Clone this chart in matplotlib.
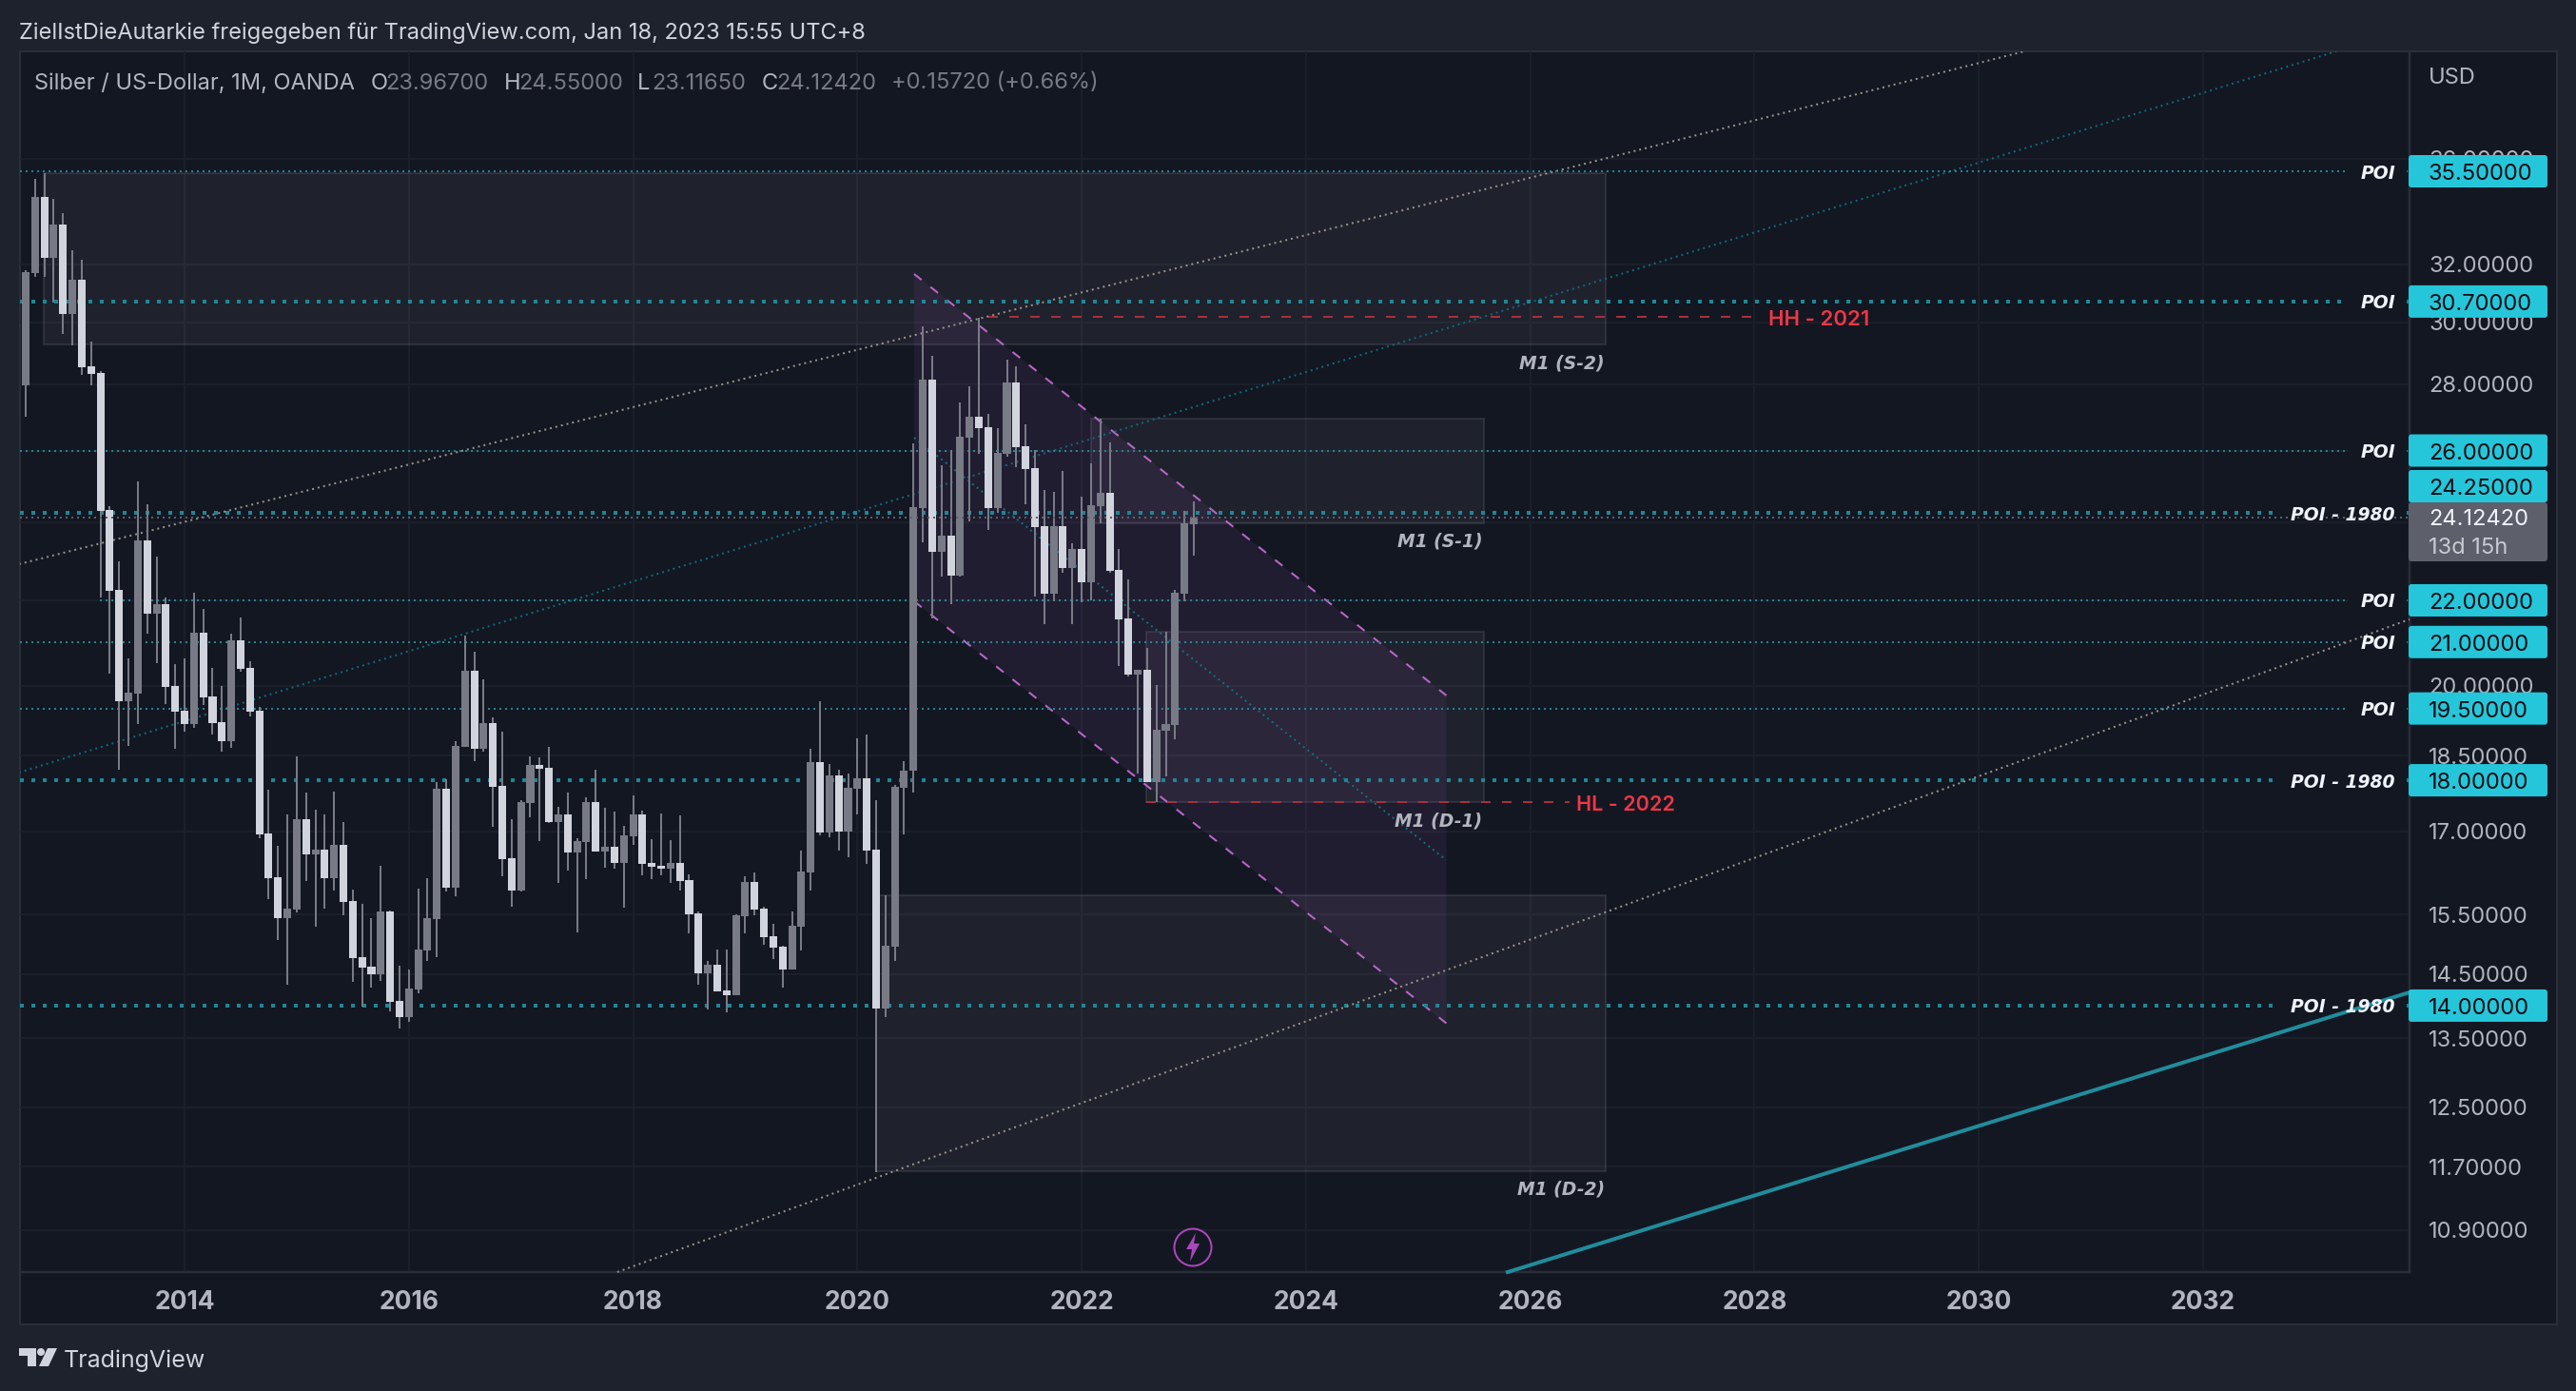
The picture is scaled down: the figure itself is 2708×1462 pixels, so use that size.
import matplotlib
matplotlib.use('Agg')
import matplotlib.pyplot as plt
from matplotlib.patches import Rectangle, Circle, Polygon, FancyBboxPatch

# ---- candles (monthly, Jul 2012 onward) ----
OPEN = [27.46,27.96,31.69,34.50,32.23,33.45,30.28,31.46,28.56,28.35,24.33,22.26,19.66,19.83,23.52,21.68,21.91,20.00,19.45,19.17,21.22,19.76,
19.21,18.80,21.04,20.40,19.45,16.96,16.16,15.44,15.58,17.24,16.57,16.66,16.14,16.75,15.73,14.78,14.62,14.50,15.55,14.07,13.82,14.25,
14.89,15.42,17.83,15.97,18.68,20.34,18.64,19.19,17.89,16.50,15.92,17.55,18.31,18.25,17.18,17.33,16.61,16.80,17.57,16.63,16.71,16.41,
16.91,17.33,16.41,16.36,16.31,16.41,16.10,15.52,14.51,14.65,14.24,14.16,15.47,16.07,15.60,15.13,14.95,14.58,15.29,16.24,18.37,16.98,
18.10,17.00,17.83,18.04,16.66,13.96,14.95,17.85,18.19,24.38,28.14,23.22,23.65,22.61,26.38,27.00,26.69,24.38,25.90,28.05,26.13,25.50,
23.90,22.16,23.90,22.81,23.30,22.45,24.44,24.80,22.76,21.56,20.25,20.36,17.96,19.02,19.14,22.16,23.95]
HIGH = [27.99,31.79,35.20,35.42,34.42,33.88,32.51,32.16,29.36,28.41,24.44,22.98,20.62,25.12,24.49,23.10,22.07,20.49,20.62,22.19,21.79,20.40,
20.00,21.20,21.58,20.56,19.53,17.81,16.73,17.33,18.49,17.76,17.42,17.33,17.77,17.18,15.93,15.68,15.44,16.36,15.57,14.64,14.58,15.95,
16.14,17.96,18.02,18.80,21.15,20.77,20.14,19.31,19.00,17.24,17.61,18.49,18.47,18.68,17.48,17.76,16.87,17.66,18.21,17.46,17.38,17.11,
17.70,17.40,16.86,17.35,16.84,17.31,16.21,15.55,14.72,14.90,14.90,15.50,16.17,16.24,15.63,15.34,14.97,15.55,16.64,18.64,19.66,18.33,
18.21,18.14,18.86,18.94,17.61,15.83,17.91,18.39,26.21,29.86,28.90,25.58,26.01,27.43,27.93,30.15,27.08,26.66,28.77,28.56,26.77,26.01,
24.88,24.83,25.41,23.45,24.70,25.63,26.94,26.24,23.30,22.52,20.36,20.86,20.02,21.24,22.26,24.31,24.57]
LOW = [27.46,27.00,31.56,31.56,30.66,29.61,29.24,28.29,27.96,22.07,20.27,18.21,18.70,19.17,21.20,20.51,19.60,18.64,19.00,19.08,19.58,18.94,
18.58,18.66,20.32,19.33,16.87,15.77,15.06,14.33,15.53,16.09,15.29,15.60,15.92,15.48,14.38,13.98,14.28,14.39,13.91,13.65,13.75,14.19,
14.72,14.78,15.90,15.82,18.68,18.39,18.58,17.09,16.17,15.63,15.90,17.27,16.82,17.16,16.05,16.28,15.19,16.12,16.63,16.33,16.31,15.62,
16.75,16.19,16.12,16.19,16.05,15.92,15.18,14.33,13.94,14.22,13.90,14.16,15.18,15.48,14.98,14.75,14.28,14.58,14.89,15.92,16.93,16.89,
16.64,16.52,17.33,16.40,11.63,13.82,14.72,16.95,17.76,23.47,21.56,22.59,21.91,22.59,24.02,25.90,23.80,24.26,25.82,25.52,24.49,22.09,
21.42,21.98,22.69,21.42,21.95,22.00,23.97,22.69,20.45,20.21,18.14,17.96,17.57,18.08,18.84,21.98,23.12]
CLOSE = [27.99,31.72,34.50,32.23,33.45,30.28,31.46,28.53,28.32,24.31,22.23,19.66,19.85,23.52,21.68,21.91,19.97,19.43,19.17,21.22,19.74,19.19,
18.80,21.04,20.38,19.43,16.95,16.14,15.44,15.60,17.24,16.57,16.66,16.14,16.75,15.72,14.76,14.61,14.50,15.55,14.06,13.82,14.27,14.90,
15.44,17.83,15.97,18.70,20.34,18.64,19.19,17.87,16.48,15.92,17.57,18.31,18.23,17.18,17.33,16.61,16.82,17.57,16.63,16.71,16.41,16.93,
17.33,16.40,16.35,16.31,16.41,16.09,15.50,14.51,14.65,14.22,14.16,15.48,16.07,15.58,15.11,14.94,14.58,15.30,16.26,18.37,16.98,18.10,
17.00,17.85,18.04,16.64,13.96,14.97,17.87,18.19,24.41,28.14,23.22,23.65,22.61,26.40,27.00,26.66,24.38,25.93,28.05,26.10,25.47,23.87,
22.16,23.90,22.81,23.30,22.45,24.46,24.80,22.74,21.54,20.25,20.36,17.96,19.04,19.17,22.19,23.97,24.13]

# ---- axes ----
YEAR_LABELS = ['2014','2016','2018','2020','2022','2024','2026','2028','2030','2032']
YEAR_BARS = [18,42,66,90,114,138,162,186,210,234]
PRICE_TICKS = [36,32,30,28,26,24,22,20,18.5,17,15.5,14.5,13.5,12.5,11.7,10.9]
XLIM = (0.39,256.09)
YLIM = (10.401,40.578)

# ---- drawings ----
BOXES = [((2.93,35.425),(170.07,29.266)),((115.0,26.942),(157.04,23.974)),
         ((120.91,21.243),(157.04,17.568)),((92.0,15.833),(170.07,11.64))]
CH_TOP = [(96.07,31.657),(153.02,19.785)]
CH_BOT = [(96.07,21.976),(153.02,13.727)]
CH_MID = [(96.07,26.376),(153.02,16.467)]
TREND_A = [(0.29,22.905),(214.86,40.578)]
TREND_B = [(0.29,18.156),(248.25,40.578)]
TREND_C = [(64.31,10.401),(256.09,21.538)]
TREND_T = [(159.59,10.401),(256.09,14.209)]
HH = [(104.01,30.165),(185.75,30.165)]
HL = [(120.91,17.568),(166.21,17.568)]
LAST = 24.1242
POI_THICK = [(30.7,'POI'),(24.25,'POI - 1980'),(18,'POI - 1980'),(14,'POI - 1980')]
POI_THIN = [(35.5,'POI',0.39),(26,'POI',0.39),(22,'POI',8.94),(21,'POI',0.39),(19.5,'POI',0.39)]
PRICE_TAGS = ['35.50000','30.70000','26.00000','24.25000','22.00000','21.00000','19.50000','18.00000','14.00000']
TAG_VALUES = [35.5,30.7,26,24.25,22,21,19.5,18,14]

W,H = 2708,1462
BG,PANE = '#1e222d','#131722'
UP,DOWN = '#787b86','#d1d4dc'
TEAL,TEXT,AXT = '#1e8696','#d1d4dc','#b2b5be'
FONT = ['Inter','Roboto','DejaVu Sans']
plt.rcParams['font.family'] = FONT
px = 72/100

fig = plt.figure(figsize=(W/100,H/100),dpi=100,facecolor=BG)
fig.add_artist(Rectangle((21/W,1-1392/H),(2688-21)/W,(1392-54)/H,transform=fig.transFigure,fc=PANE,ec='#2a2e39',lw=2*px,zorder=-5))
ax = fig.add_axes([21/W,1-1337/H,(2533-21)/W,(1337-54)/H],facecolor='none')
ax.set_yscale('log')
ax.set_xlim(*XLIM); ax.set_ylim(*YLIM)
ax.set_xticks(YEAR_BARS,YEAR_LABELS)
ax.set_yticks(PRICE_TICKS,[f'{p:.5f}' for p in PRICE_TICKS])
ax.minorticks_off()
ax.yaxis.tick_right()
ax.tick_params(axis='x',length=0,pad=19*px,labelsize=19,labelcolor=AXT)
ax.tick_params(axis='y',length=0,pad=20*px,labelsize=17,labelcolor=AXT,which='both')
for t in ax.get_xticklabels(): t.set_fontweight('bold')
ax.grid(True,color='#1b1f2a',lw=2*px,zorder=0)
ax.set_axisbelow(True)
for s in ('top','left'): ax.spines[s].set_visible(False)
for s in ('right','bottom'):
    ax.spines[s].set_color('#2a2e39'); ax.spines[s].set_linewidth(2.5*px)

for (a,b) in BOXES:
    ax.add_patch(Rectangle((a[0],b[1]),b[0]-a[0],a[1]-b[1],fc=(1,1,1,.05),ec=(.47,.48,.53,.22),lw=2*px,zorder=1))
ax.fill([CH_TOP[0][0],CH_TOP[1][0],CH_BOT[1][0],CH_BOT[0][0]],[CH_TOP[0][1],CH_TOP[1][1],CH_BOT[1][1],CH_BOT[0][1]],
        color='#9f53b8',alpha=.1,lw=0,zorder=1.2)
def line(pts,color,lw,dash,z=2,**k):
    ax.plot([p[0] for p in pts],[p[1] for p in pts],color=color,lw=lw*px,linestyle=(0,dash),
            dash_capstyle='butt',zorder=z,**k)
for c in (CH_TOP,CH_BOT): line(c,'#ba68c8',2,(5,6))
line(CH_MID,'#12707f',2,(1,2))
line(TREND_A,'#9c9386',2,(1,2))
line(TREND_B,'#10697a',2,(1,2))
line(HH,'#a8303b',2,(5,6))
line(HL,'#a8303b',2,(5,6))
for v,lab in POI_THICK:
    line([(XLIM[0],v),(XLIM[1],v)],TEAL,4,(1,2))
for v,lab,x0 in POI_THIN:
    line([(x0,v),(XLIM[1],v)],TEAL,2,(1,2))

# candles
for i,(o,h,l,c) in enumerate(zip(OPEN,HIGH,LOW,CLOSE)):
    col = UP if c>=o else DOWN
    ax.plot([i,i],[l,h],color=UP,lw=2*px,solid_capstyle='butt',zorder=4)
    ax.bar(i,abs(c-o),bottom=min(o,c),width=0.82,color=col,lw=0,zorder=4.2)

# overlay in pixels
ov = fig.add_axes([0,0,1,1],facecolor='none',zorder=10)
ov.set_xlim(0,W); ov.set_ylim(H,0); ov.axis('off')
fig.canvas.draw()
renderer = fig.canvas.get_renderer()
def ypx(p): return H-ax.transData.transform((1,p))[1]

OBLIQUE = ['DejaVu Sans']
for v,lab in [(a,b) for a,b in POI_THICK]+[(a,b) for a,b,_ in POI_THIN]:
    t = ov.text(2518,ypx(v),lab,color='#f0f3fa',fontsize=13.5,fontweight='bold',style='italic',family=OBLIQUE,
                ha='right',va='center_baseline',zorder=6.5)
    bb = t.get_window_extent(renderer)
    ov.add_patch(Rectangle((bb.x0-12,ypx(v)-8),bb.width+24,16,fc=PANE,ec='none',zorder=5))
# lines that pass over the POI masks
yl = ypx(LAST)
ov.plot([21,2533],[yl,yl],color='#5d606b',lw=2*px,linestyle=(0,(1,2)),dash_capstyle='butt',zorder=6)
ov.plot([p[0] for p in TREND_C],[p[1] for p in TREND_C],transform=ax.transData,color='#9c9386',lw=2*px,
        linestyle=(0,(1,2)),dash_capstyle='butt',zorder=5.5)
ov.plot([p[0] for p in TREND_T],[p[1] for p in TREND_T],transform=ax.transData,color='#218c9b',lw=4*px,zorder=5.5)

for v,t in zip(TAG_VALUES,PRICE_TAGS):
    y = ypx(v) if t!='24.25000' else 511
    ov.add_patch(FancyBboxPatch((2532,y-17),146,34,boxstyle='round,pad=0,rounding_size=3',fc='#26c6da',ec='none',zorder=7))
    ov.text(2553,y+0.5,t,color='#0b0e14',fontsize=17,ha='left',va='center_baseline',zorder=8)
ov.add_patch(FancyBboxPatch((2532,528),146,62,boxstyle='round,pad=0,rounding_size=3',fc='#5d606b',ec='none',zorder=7))
ov.text(2553,544,'24.12420',color='#f0f3fa',fontsize=17,ha='left',va='center_baseline',zorder=8)
ov.text(2553,573,'13d 15h',color='#c8cad2',fontsize=17,ha='left',va='center_baseline',zorder=8)
ov.text(2553,80,'USD',color=AXT,fontsize=17,ha='left',va='center_baseline')

ov.text(1859,334,'HH - 2021',color='#f23645',fontsize=16,fontweight='semibold',ha='left',va='center_baseline')
ov.text(1657,844,'HL - 2022',color='#f23645',fontsize=15.5,fontweight='semibold',ha='left',va='center_baseline')
for x,y,t in [(1687,380,'M1 (S-2)'),(1559,567,'M1 (S-1)'),(1558,861,'M1 (D-1)'),(1687,1248,'M1 (D-2)')]:
    ov.text(x,y,t,color=AXT,fontsize=13.5,fontweight='bold',style='italic',family=OBLIQUE,ha='right',va='center_baseline')

# header
ov.text(20,32,'ZielIstDieAutarkie freigegeben für TradingView.com, Jan 18, 2023 15:55 UTC+8',color=TEXT,fontsize=17,ha='left',va='center_baseline')
ov.text(36,85,'Silber / US-Dollar, 1M, OANDA',color=AXT,fontsize=17,ha='left',va='center_baseline')
for x,lab,val in [(390,'O','23.96700'),(530,'H','24.55000'),(670,'L','23.11650'),(801,'C','24.12420')]:
    ov.text(x,85,lab,color=AXT,fontsize=17,ha='left',va='center_baseline')
    ov.text(x+15,85,val,color='#787b86',fontsize=17,ha='left',va='center_baseline')
ov.text(937,85,'+0.15720 (+0.66%)',color='#787b86',fontsize=17,ha='left',va='center_baseline')

# footer logo
ov.add_patch(Polygon([(20,1417),(38,1417),(38,1436),(29,1436),(29,1425),(20,1425)],fc=TEXT,ec='none'))
ov.add_patch(Circle((43,1421),4,fc=TEXT,ec='none'))
ov.add_patch(Polygon([(50,1417),(60,1417),(51,1436),(41,1436)],fc=TEXT,ec='none'))
ov.text(67,1428,'TradingView',color=TEXT,fontsize=18,ha='left',va='center_baseline')

# lightning marker
ov.add_patch(Circle((1254,1311),19.5,fc='none',ec='#ab47bc',lw=2*px))
ov.add_patch(Polygon([(1257,1296),(1247,1313),(1253,1313),(1251,1326),(1261,1307),(1255,1307)],fc='#ab47bc',ec='none'))

fig.savefig('out.png',dpi=100,facecolor=BG)
